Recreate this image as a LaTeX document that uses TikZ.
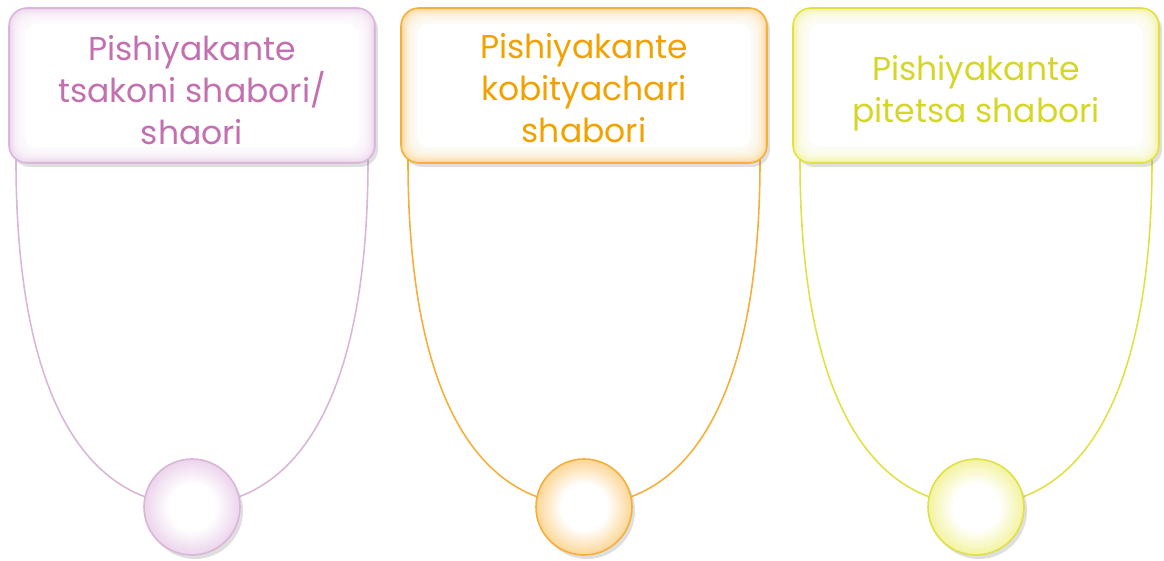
\documentclass[tikz,border=0pt]{standalone}
\usepackage{fontspec}
\setmainfont{Poppins}
\usetikzlibrary{shadows}
\definecolor{pbord}{RGB}{217,183,217}
\definecolor{ptext}{RGB}{194,112,176}
\definecolor{ptint}{RGB}{236,212,236}
\definecolor{obord}{RGB}{245,176,60}
\definecolor{otext}{RGB}{242,162,0}
\definecolor{otint}{RGB}{252,214,150}
\definecolor{ybord}{RGB}{225,225,70}
\definecolor{ytext}{RGB}{214,214,40}
\definecolor{ytint}{RGB}{243,243,160}
\colorlet{gtint}{ptint}
\pgfdeclareradialshading[gtint]{ballglow}{\pgfpoint{0cm}{0cm}}{color(0bp)=(white); color(12bp)=(white); color(25bp)=(gtint); color(50bp)=(gtint)}
\tikzset{
  tint/.style={/utils/exec={\colorlet{gtint}{#1}}},
  innerglow/.style={path picture={
    \foreach \k in {1,...,7}{
      \fill[white, opacity=0.3, rounded corners=14pt]
        ([shift={(2*\k pt,2*\k pt)}]path picture bounding box.south west) rectangle
        ([shift={(-2*\k pt,-2*\k pt)}]path picture bounding box.north east);}
    \fill[white, rounded corners=12pt]
        ([shift={(16pt,16pt)}]path picture bounding box.south west) rectangle
        ([shift={(-16pt,-16pt)}]path picture bounding box.north east);
  }},
  titlebox/.style={rounded corners=18pt, line width=1.6pt, minimum width=366pt, minimum height=155pt,
    inner sep=0pt, innerglow,
    drop shadow={opacity=0.25, shadow xshift=3pt, shadow yshift=-4pt}},
  boxtext/.style={align=center, font=\fontsize{33}{42}\selectfont, inner sep=0pt},
  ball/.style={circle, line width=1.6pt, minimum size=96pt, inner sep=0pt,
    shading=ballglow, drop shadow={opacity=0.25, shadow xshift=3pt, shadow yshift=-4pt}},
  ucurve/.style={line width=1.6pt}
}
\begin{document}
\begin{tikzpicture}[x=1pt,y=-1pt]
\useasboundingbox (0,0) rectangle (1164,561);
\foreach \i/\bc/\ti/\x in {1/pbord/ptint/0, 2/obord/otint/392, 3/ybord/ytint/784}{
  \coordinate (l\i) at (16+\x,160);
  \coordinate (r\i) at (368+\x,160);
  \coordinate (m\i) at (192+\x,505);
  \draw[ucurve, \bc] (l\i) .. controls (16+\x,420) and (100+\x,505) .. (m\i)
     .. controls (284+\x,505) and (368+\x,420) .. (r\i);
  \node[tint=\ti, ball, draw=\bc] (c\i) at (192+\x,507) {};
}
\node[titlebox, draw=pbord, fill=ptint,
  label={[boxtext, text=ptext, yshift=-4.5pt]center:{Pishiyakante\\tsakoni shabori/\\shaori}}] (b1) at (192,85.5) {};
\node[titlebox, draw=obord, fill=otint,
  label={[boxtext, text=otext, yshift=-2.5pt]center:{Pishiyakante\\kobityachari\\shabori}}] (b2) at (584,85.5) {};
\node[titlebox, draw=ybord, fill=ytint,
  label={[boxtext, text=ytext, yshift=-8pt]center:{Pishiyakante\\pitetsa shabori}}] (b3) at (976,85.5) {};
\end{tikzpicture}
\end{document}
